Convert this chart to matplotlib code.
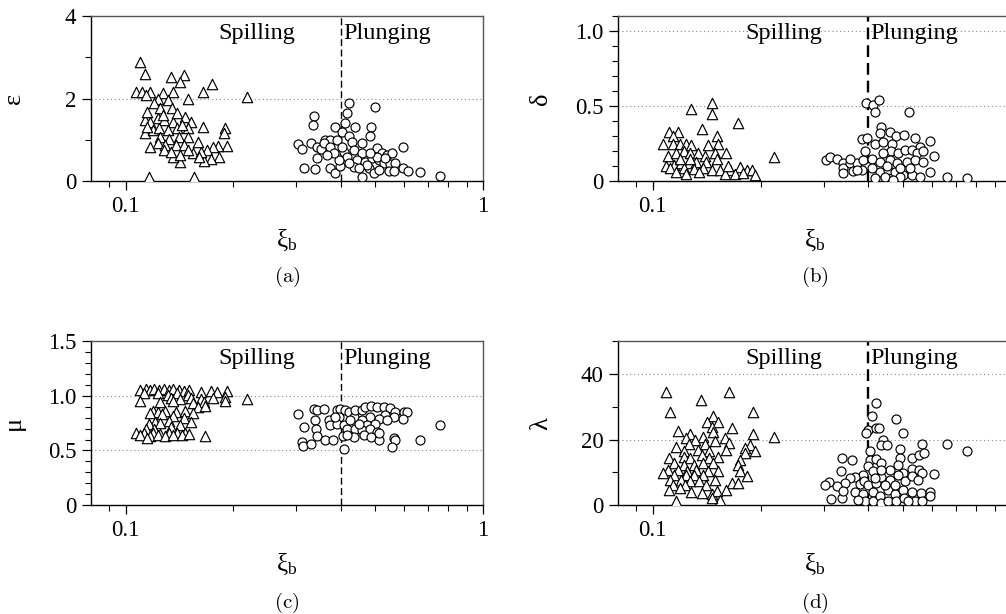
import matplotlib
matplotlib.use("Agg")
import matplotlib.pyplot as plt
from matplotlib.ticker import MultipleLocator, NullFormatter

plt.rcParams['font.family'] = ['Liberation Serif', 'DejaVu Serif']
plt.rcParams['mathtext.fontset'] = 'custom'
plt.rcParams['mathtext.rm'] = 'Liberation Serif'
plt.rcParams['mathtext.it'] = 'Liberation Serif'

XI_BREAK = 0.4  # spilling / plunging limit

# (a) epsilon
xi_spill_a = [0.110, 0.113, 0.134, 0.146, 0.142, 0.174, 0.165, 0.218, 0.107, 0.111, 0.117, 0.114, 0.127, 0.136, 0.149, 0.123,
              0.165, 0.190, 0.188, 0.192, 0.181, 0.176, 0.169, 0.182, 0.173, 0.166,
              0.159, 0.154, 0.142, 0.136, 0.116, 0.155, 0.117, 0.113, 0.113, 0.115,
              0.120, 0.125, 0.131, 0.135, 0.117, 0.123, 0.128, 0.136, 0.147, 0.152,
              0.119, 0.124, 0.131, 0.139, 0.149, 0.125, 0.132, 0.141, 0.149, 0.123,
              0.129, 0.138, 0.146, 0.128, 0.134, 0.149, 0.162, 0.160, 0.142, 0.127,
              0.139, 0.115, 0.144]
eps_spill = [2.89, 2.59, 2.53, 2.57, 2.41, 2.34, 2.17, 2.04, 2.17, 2.17, 2.17, 2.08, 2.13, 2.17, 1.98, 2.00,
             1.30, 1.28, 1.16, 0.85, 0.85, 0.82, 0.75, 0.57, 0.53, 0.49,
             0.95, 0.69, 0.47, 0.57, 0.10, 0.10, 0.83, 1.16, 1.48, 1.68,
             1.88, 1.76, 1.96, 1.76, 1.44, 1.52, 1.48, 1.44, 1.56, 1.44,
             1.24, 1.28, 1.24, 1.28, 1.28, 1.07, 1.03, 1.07, 1.07, 0.91,
             0.87, 0.87, 0.87, 0.75, 0.71, 0.75, 0.71, 0.59, 0.63, 1.60,
             1.64, 1.32, 1.36]
xi_plunge_a = [0.421, 0.499, 0.416, 0.337, 0.334, 0.412, 0.386, 0.437, 0.487, 0.403,
               0.421, 0.483, 0.303, 0.312, 0.329, 0.362, 0.374, 0.390, 0.342, 0.351,
               0.358, 0.342, 0.316, 0.338, 0.372, 0.384, 0.397, 0.407, 0.430, 0.458,
               0.434, 0.458, 0.416, 0.394, 0.444, 0.434, 0.468, 0.489, 0.505, 0.521,
               0.538, 0.556, 0.510, 0.527, 0.550, 0.568, 0.478, 0.494, 0.510, 0.544,
               0.564, 0.458, 0.473, 0.597, 0.597, 0.615, 0.664, 0.759, 0.374, 0.403,
               0.382, 0.366, 0.505, 0.530, 0.449, 0.421, 0.483]
eps_plunge = [1.90, 1.79, 1.64, 1.58, 1.37, 1.40, 1.30, 1.30, 1.32, 1.20,
              1.09, 1.09, 0.90, 0.77, 0.93, 0.99, 0.99, 0.99, 0.82, 0.77,
              0.91, 0.55, 0.31, 0.28, 0.31, 0.20, 0.36, 0.71, 0.95, 0.91,
              0.75, 0.67, 0.59, 0.51, 0.51, 0.35, 0.47, 0.55, 0.79, 0.67,
              0.63, 0.67, 0.51, 0.43, 0.41, 0.43, 0.31, 0.20, 0.27, 0.25,
              0.25, 0.09, 0.39, 0.82, 0.31, 0.25, 0.23, 0.12, 0.82, 0.83,
              0.67, 0.63, 0.59, 0.55, 0.31, 0.43, 0.67]

# (b) delta
xi_spill_b = [0.128, 0.146, 0.146, 0.173, 0.137, 0.218, 0.111, 0.118, 0.114, 0.107,
              0.114, 0.119, 0.124, 0.128, 0.151, 0.152, 0.143, 0.160, 0.110, 0.116,
              0.122, 0.127, 0.134, 0.140, 0.149, 0.109, 0.115, 0.120, 0.126, 0.132,
              0.141, 0.151, 0.112, 0.122, 0.130, 0.138, 0.146, 0.154, 0.164, 0.175,
              0.183, 0.189, 0.193, 0.159, 0.170, 0.135, 0.119, 0.127, 0.162, 0.179,
              0.124, 0.116]
delta_spill = [0.48, 0.52, 0.45, 0.39, 0.35, 0.16, 0.33, 0.33, 0.30, 0.25,
               0.25, 0.25, 0.25, 0.24, 0.30, 0.25, 0.24, 0.19, 0.17, 0.19,
               0.20, 0.19, 0.19, 0.17, 0.19, 0.10, 0.11, 0.12, 0.12, 0.13,
               0.13, 0.15, 0.085, 0.085, 0.078, 0.085, 0.074, 0.074, 0.074, 0.092,
               0.074, 0.074, 0.040, 0.050, 0.047, 0.062, 0.15, 0.15, 0.10, 0.056,
               0.050, 0.062]
xi_plunge_b = [0.394, 0.412, 0.429, 0.418, 0.520, 0.433, 0.459, 0.431, 0.479, 0.504,
               0.385, 0.397, 0.539, 0.594, 0.417, 0.438, 0.464, 0.557, 0.461, 0.484,
               0.506, 0.528, 0.545, 0.569, 0.610, 0.304, 0.313, 0.327, 0.339, 0.340,
               0.355, 0.371, 0.387, 0.408, 0.431, 0.459, 0.481, 0.511, 0.539, 0.340,
               0.362, 0.383, 0.408, 0.431, 0.453, 0.473, 0.500, 0.528, 0.557, 0.594,
               0.661, 0.755, 0.417, 0.444, 0.490, 0.450, 0.490, 0.523, 0.390, 0.440,
               0.371, 0.569, 0.469, 0.355]
delta_plunge = [0.52, 0.51, 0.54, 0.46, 0.46, 0.36, 0.33, 0.32, 0.30, 0.31,
                0.28, 0.29, 0.29, 0.27, 0.25, 0.26, 0.25, 0.23, 0.20, 0.185,
                0.21, 0.21, 0.185, 0.20, 0.17, 0.14, 0.16, 0.15, 0.12, 0.09,
                0.12, 0.12, 0.14, 0.15, 0.13, 0.14, 0.12, 0.13, 0.14, 0.056,
                0.069, 0.074, 0.085, 0.062, 0.074, 0.062, 0.040, 0.040, 0.029, 0.062,
                0.029, 0.018, 0.018, 0.025, 0.029, 0.10, 0.085, 0.085, 0.20, 0.185,
                0.074, 0.13, 0.010, 0.15]

# (c) mu
xi_spill_c = [0.110, 0.114, 0.117, 0.120, 0.124, 0.128, 0.132, 0.136, 0.141, 0.146, 0.150,
              0.1125, 0.123, 0.131, 0.139, 0.149, 0.162, 0.173, 0.180, 0.192,
              0.134, 0.142, 0.152, 0.162, 0.176, 0.190, 0.218,
              0.110, 0.125, 0.136, 0.154, 0.166, 0.190,
              0.159, 0.167,
              0.119, 0.123, 0.129, 0.138, 0.147,
              0.117, 0.126, 0.154,
              0.136, 0.146,
              0.121, 0.132, 0.152,
              0.116, 0.125, 0.142,
              0.114, 0.120, 0.134,
              0.107, 0.1125, 0.119, 0.125, 0.132, 0.139, 0.147,
              0.110, 0.117, 0.123, 0.129, 0.136, 0.144, 0.150, 0.167,
              0.115]
mu_spill = [1.05, 1.06, 1.05, 1.06, 1.05, 1.06, 1.05, 1.06, 1.05, 1.04, 1.05,
            1.02, 1.02, 1.01, 1.02, 1.01, 1.03, 1.04, 1.03, 1.04,
            0.98, 0.97, 0.98, 0.97, 0.98, 0.99, 0.97,
            0.95, 0.94, 0.95, 0.93, 0.94, 0.95,
            0.90, 0.91,
            0.86, 0.85, 0.86, 0.85, 0.86,
            0.84, 0.83, 0.84,
            0.81, 0.80,
            0.76, 0.77, 0.76,
            0.74, 0.75, 0.73,
            0.70, 0.70, 0.71,
            0.66, 0.655, 0.66, 0.65, 0.655, 0.66, 0.66,
            0.64, 0.63, 0.64, 0.635, 0.64, 0.64, 0.65, 0.63,
            0.61]
xi_plunge_c = [0.303, 0.316, 0.312, 0.314, 0.329, 0.336, 0.342, 0.358, 0.338, 0.340,
               0.343, 0.362, 0.380, 0.407, 0.405, 0.370, 0.372, 0.390, 0.398, 0.412,
               0.421, 0.394, 0.390, 0.407, 0.416, 0.434, 0.439, 0.458, 0.468, 0.487,
               0.505, 0.527, 0.550, 0.568, 0.600, 0.612, 0.597, 0.563, 0.532, 0.510,
               0.483, 0.458, 0.473, 0.499, 0.439, 0.458, 0.483, 0.505, 0.434, 0.463,
               0.487, 0.510, 0.510, 0.565, 0.568, 0.556, 0.664, 0.759, 0.416, 0.386,
               0.538, 0.449, 0.425]
mu_plunge = [0.83, 0.715, 0.58, 0.54, 0.555, 0.877, 0.87, 0.877, 0.777, 0.694,
             0.633, 0.594, 0.594, 0.518, 0.633, 0.777, 0.73, 0.868, 0.88, 0.868,
             0.85, 0.807, 0.746, 0.73, 0.70, 0.807, 0.868, 0.868, 0.898, 0.907,
             0.898, 0.898, 0.883, 0.852, 0.852, 0.847, 0.79, 0.807, 0.822, 0.79,
             0.807, 0.777, 0.73, 0.746, 0.70, 0.685, 0.70, 0.67, 0.624, 0.64,
             0.624, 0.594, 0.655, 0.61, 0.594, 0.533, 0.594, 0.737, 0.64, 0.807,
             0.777, 0.746, 0.777]

# (d) lambda
xi_spill_d = [0.109, 0.163, 0.136, 0.112, 0.191, 0.147, 0.142, 0.152, 0.146, 0.166,
              0.118, 0.147, 0.127, 0.191, 0.218, 0.138, 0.159, 0.124, 0.131, 0.149,
              0.163, 0.187, 0.126, 0.140, 0.116, 0.160, 0.181, 0.193, 0.122, 0.134,
              0.144, 0.111, 0.122, 0.127, 0.137, 0.144, 0.152, 0.181, 0.175, 0.173,
              0.115, 0.122, 0.130, 0.138, 0.147, 0.110, 0.118, 0.125, 0.132, 0.143,
              0.152, 0.175, 0.107, 0.115, 0.124, 0.130, 0.138, 0.183, 0.112, 0.120,
              0.127, 0.135, 0.149, 0.166, 0.173, 0.114, 0.123, 0.141, 0.160, 0.111,
              0.119, 0.128, 0.137, 0.146, 0.151, 0.154, 0.116, 0.146]
lam_spill = [34.5, 34.5, 32.0, 28.3, 28.5, 27.0, 25.3, 25.3, 23.9, 23.6,
             22.6, 22.4, 21.6, 21.6, 20.9, 20.9, 20.6, 20.4, 19.9, 19.4,
             18.9, 18.4, 18.6, 18.6, 17.6, 16.9, 17.4, 16.6, 16.4, 16.9,
             16.4, 14.4, 14.8, 14.5, 15.2, 14.4, 14.8, 15.9, 13.8, 12.3,
             12.8, 12.3, 12.3, 12.8, 12.8, 10.8, 10.8, 10.5, 10.8, 10.5,
             10.3, 10.3, 9.8, 9.3, 9.1, 9.1, 9.3, 8.8, 7.8, 7.8,
             7.3, 7.5, 7.8, 6.8, 6.8, 6.3, 6.3, 6.1, 4.8, 4.8,
             5.3, 4.1, 3.8, 3.5, 4.5, 1.7, 1.2, 2.2]
xi_plunge_d = [0.420, 0.410, 0.477, 0.399, 0.393, 0.420, 0.428, 0.498, 0.440, 0.433,
               0.452, 0.563, 0.664, 0.755, 0.490, 0.338, 0.360, 0.404, 0.490, 0.530,
               0.553, 0.571, 0.335, 0.404, 0.420, 0.433, 0.459, 0.485, 0.498, 0.528,
               0.555, 0.565, 0.610, 0.400, 0.412, 0.387, 0.368, 0.355, 0.345, 0.326,
               0.310, 0.302, 0.314, 0.338, 0.340, 0.379, 0.389, 0.399, 0.420, 0.433,
               0.459, 0.485, 0.505, 0.528, 0.551, 0.366, 0.387, 0.391, 0.412, 0.412,
               0.431, 0.433, 0.453, 0.453, 0.473, 0.479, 0.500, 0.503, 0.528, 0.539,
               0.561, 0.563, 0.594, 0.594, 0.416, 0.445, 0.473, 0.375, 0.517, 0.433]
lam_plunge = [31.0, 27.3, 26.3, 22.9, 21.9, 23.6, 23.5, 21.9, 19.9, 18.2,
              18.4, 18.6, 18.6, 16.6, 17.2, 14.5, 13.8, 16.4, 14.5, 14.4,
              15.4, 15.9, 10.5, 13.8, 14.2, 12.8, 10.8, 12.3, 9.8, 11.1,
              10.8, 9.8, 9.5, 12.1, 10.3, 9.3, 8.5, 8.3, 6.8, 5.8,
              7.1, 6.3, 2.0, 2.2, 4.5, 6.5, 7.5, 6.1, 6.8, 8.5,
              7.8, 9.3, 7.3, 8.8, 7.8, 4.2, 3.5, 1.2, 4.2, 1.4,
              2.7, 0.7, 4.8, 1.2, 3.5, 1.2, 4.8, 2.2, 4.1, 1.4,
              3.8, 1.4, 4.2, 2.7, 8.3, 6.3, 6.3, 1.7, 1.2, 10.8]


def panel(ax, xs, ys, xp, yp, ylabel, ylim, yticks, yticklabels, minor, grid,
          caption, caption_y, vlw, xlabels):
    ax.scatter(xs, ys, marker='^', s=56, facecolor='white', edgecolor='black', linewidth=0.85, zorder=3)
    ax.scatter(xp, yp, marker='o', s=42, facecolor='white', edgecolor='black', linewidth=0.85, zorder=3)
    ax.set_xscale('log')
    ax.set_xlim(0.08, 1)
    ax.set_ylim(*ylim)
    ax.set_xticks([0.1, 1], xlabels)
    ax.set_xticks([0.09, 0.2, 0.3, 0.4, 0.5, 0.6, 0.7, 0.8, 0.9], minor=True)
    ax.xaxis.set_minor_formatter(NullFormatter())
    ax.set_yticks(yticks, yticklabels)
    ax.yaxis.set_minor_locator(MultipleLocator(minor))
    ax.tick_params(which='major', direction='out', length=6.5, width=0.9, labelsize=16.5, pad=4)
    ax.tick_params(which='minor', direction='out', length=4.5, width=0.8)
    for g in grid:
        ax.axhline(g, color='#888888', lw=0.8, ls=(0, (1, 2.5)), zorder=1)
    ax.axvline(XI_BREAK, color='black', lw=vlw, ls=(0, (5, 2.5)), zorder=2)
    for side in ('left', 'bottom'):
        ax.spines[side].set_linewidth(1.0)
    for side in ('top', 'right'):
        ax.spines[side].set_color('#555555')
        ax.spines[side].set_linewidth(1.0)
    ax.text(0.324, 0.86, 'Spilling', transform=ax.transAxes, fontsize=17.5, va='baseline', ha='left')
    ax.text(0.643, 0.86, 'Plunging', transform=ax.transAxes, fontsize=17.5, va='baseline', ha='left')
    ax.set_xlabel('ξ$_\\mathrm{b}$', fontsize=18)
    ax.xaxis.label.set_va('center')
    ax.xaxis.set_label_coords(0.5, -0.36)
    ax.set_ylabel(ylabel, fontsize=19)
    ax.yaxis.label.set_va('center')
    ax.yaxis.set_label_coords(-0.196, 0.5)
    ax.text(0.5, caption_y, r'$\mathrm{(' + caption + ')}$', transform=ax.transAxes,
            fontsize=15, ha='center', va='center', math_fontfamily='cm')


fig = plt.figure(figsize=(10.06, 6.14), dpi=100)
ax_a = fig.add_axes([0.0905, 0.7052, 0.3897, 0.2687])
ax_b = fig.add_axes([0.6143, 0.7052, 0.3907, 0.2687])
ax_c = fig.add_axes([0.0905, 0.1770, 0.3897, 0.2679])
ax_d = fig.add_axes([0.6143, 0.1770, 0.3907, 0.2679])

# the right-hand panels run past the page edge, so their "1" is not shown
panel(ax_a, xi_spill_a, eps_spill, xi_plunge_a, eps_plunge, 'ε', (0, 4),
      [0, 2, 4], ['0', '2', '4'], 1, [2], 'a', -0.58, 1.0, ['0.1', '1'])
panel(ax_b, xi_spill_b, delta_spill, xi_plunge_b, delta_plunge, 'δ', (0, 1.1),
      [0, 0.5, 1.0], ['0', '0.5', '1.0'], 0.1, [0.5, 1.0], 'b', -0.58, 1.7, ['0.1', ''])
panel(ax_c, xi_spill_c, mu_spill, xi_plunge_c, mu_plunge, 'μ', (0, 1.5),
      [0, 0.5, 1.0, 1.5], ['0', '0.5', '1.0', '1.5'], 0.1, [0.5, 1.0], 'c', -0.595, 1.0, ['0.1', '1'])
panel(ax_d, xi_spill_d, lam_spill, xi_plunge_d, lam_plunge, 'λ', (0, 50),
      [0, 20, 40], ['0', '20', '40'], 10, [20, 40], 'd', -0.595, 1.7, ['0.1', ''])

fig.savefig('out.png', dpi=100)
plt.close(fig)
